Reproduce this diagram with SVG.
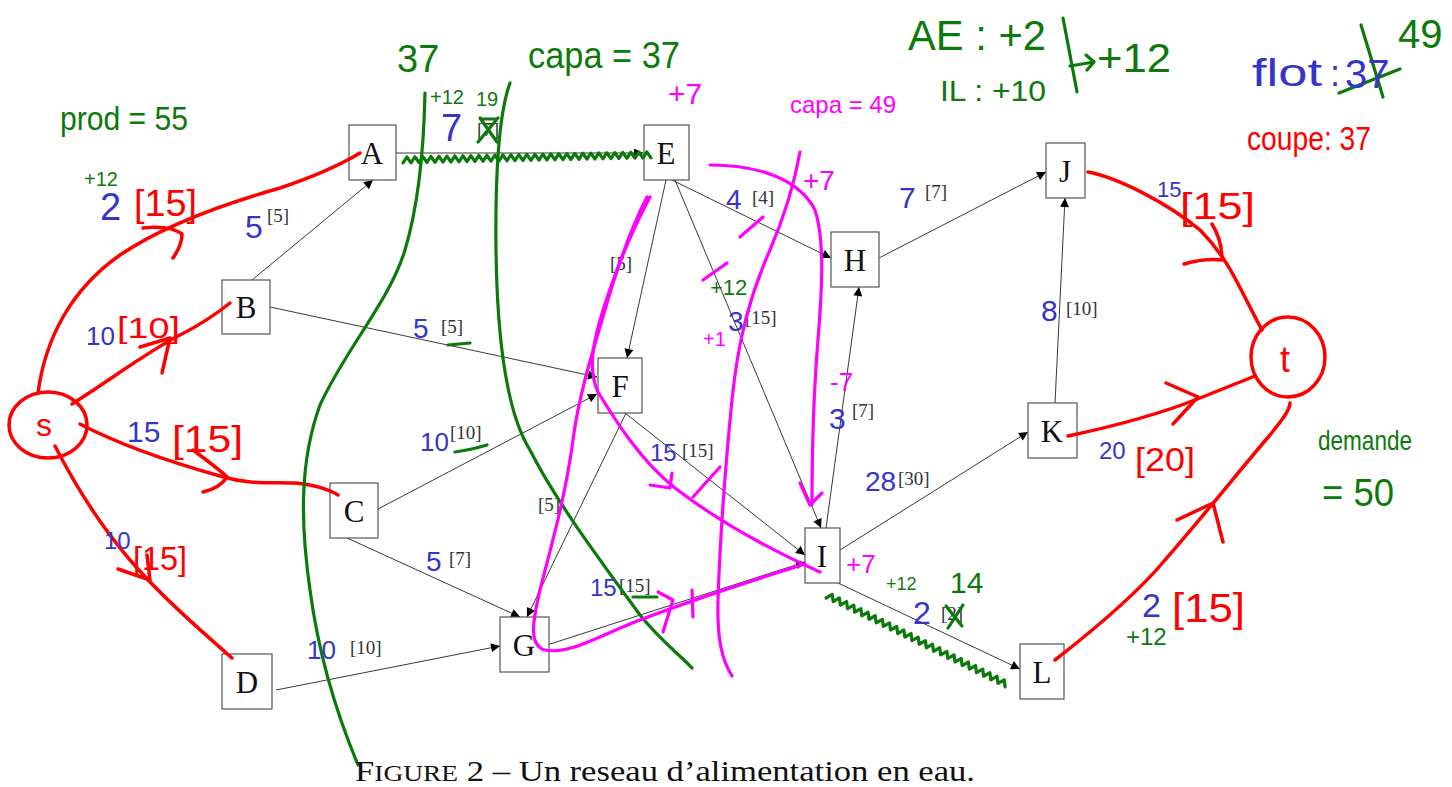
<svg xmlns="http://www.w3.org/2000/svg" width="1452" height="787" viewBox="0 0 1452 787">
<defs>
<marker id="ar" viewBox="0 0 10 10" refX="10" refY="5" markerWidth="11" markerHeight="9" markerUnits="userSpaceOnUse" orient="auto"><path d="M0,0 L10,5 L0,10 z" fill="#000"/></marker>
</defs>
<style>
.box{fill:#fff;stroke:#555;stroke-width:1.2}
.nl{font-family:"Liberation Serif",serif;font-size:31px;fill:#111;text-anchor:middle}
.cp{font-family:"Liberation Serif",serif;font-size:19px;fill:#333}
.e{stroke:#222;stroke-width:0.9;fill:none;marker-end:url(#ar)}
.r{stroke:#f00;stroke-width:3.5;fill:none;stroke-linecap:round;stroke-linejoin:round}
.g{stroke:#0b7a0b;stroke-width:3.2;fill:none;stroke-linecap:round;stroke-linejoin:round}
.m{stroke:#f0f;stroke-width:3.2;fill:none;stroke-linecap:round;stroke-linejoin:round}
.h{font-family:"Liberation Sans",sans-serif}
.hb{fill:#3535cc}
.hr{fill:#f00}
.hg{fill:#0b7a0b}
.hm{fill:#f0f}
</style>
<rect width="1452" height="787" fill="#fff"/>

<g id="connectors">
<line class="e" x1="252" y1="280" x2="373" y2="180"/>
<line class="e" x1="396" y1="153" x2="643" y2="153"/>
<line class="e" x1="270" y1="307" x2="597" y2="377"/>
<line class="e" x1="378" y1="509" x2="597" y2="394"/>
<line class="e" x1="347" y1="538" x2="520" y2="617"/>
<line class="e" x1="276" y1="690" x2="500" y2="646"/>
<line class="e" x1="666" y1="180" x2="627" y2="358"/>
<line class="e" x1="672" y1="180" x2="831" y2="258"/>
<line class="e" x1="675" y1="180" x2="821" y2="528"/>
<line class="e" x1="626" y1="413" x2="527" y2="617"/>
<line class="e" x1="625" y1="413" x2="805" y2="555"/>
<line class="e" x1="547" y1="645" x2="805" y2="562"/>
<line class="e" x1="826" y1="528" x2="859" y2="287"/>
<line class="e" x1="840" y1="550" x2="1028" y2="432"/>
<line class="e" x1="838" y1="583" x2="1020" y2="669"/>
<line class="e" x1="879" y1="258" x2="1046" y2="172"/>
<line class="e" x1="1055" y1="403" x2="1065" y2="198"/>
</g>

<g id="edge-labels" class="cp">
<text x="267" y="222">[5]</text>
<text x="477" y="136">[7]</text>
<text x="752" y="204">[4]</text>
<text x="610" y="270">[5]</text>
<text x="745" y="324">[15]</text>
<text x="441" y="333">[5]</text>
<text x="450" y="439">[10]</text>
<text x="682" y="457">[15]</text>
<text x="852" y="417">[7]</text>
<text x="898" y="485">[30]</text>
<text x="1066" y="315">[10]</text>
<text x="925" y="198">[7]</text>
<text x="538" y="511">[5]</text>
<text x="449" y="565">[7]</text>
<text x="619" y="592">[15]</text>
<text x="350" y="654">[10]</text>
<text x="941" y="620">[2]</text>
</g>

<g id="node-A"><rect class="box" x="349" y="125" width="47" height="55"/><text class="nl" x="372" y="164">A</text></g>
<g id="node-B"><rect class="box" x="222" y="280" width="48" height="54"/><text class="nl" x="246" y="318">B</text></g>
<g id="node-C"><rect class="box" x="330" y="483" width="48" height="55"/><text class="nl" x="354" y="522">C</text></g>
<g id="node-D"><rect class="box" x="222" y="654" width="50" height="55"/><text class="nl" x="247" y="693">D</text></g>
<g id="node-E"><rect class="box" x="644" y="125" width="45" height="55"/><text class="nl" x="666" y="164">E</text></g>
<g id="node-F"><rect class="box" x="598" y="358" width="44" height="55"/><text class="nl" x="620" y="397">F</text></g>
<g id="node-G"><rect class="box" x="500" y="617" width="49" height="55"/><text class="nl" x="524" y="656">G</text></g>
<g id="node-H"><rect class="box" x="831" y="232" width="48" height="55"/><text class="nl" x="855" y="271">H</text></g>
<g id="node-I"><rect class="box" x="805" y="528" width="35" height="55"/><text class="nl" x="822" y="567">I</text></g>
<g id="node-J"><rect class="box" x="1046" y="143" width="39" height="55"/><text class="nl" x="1065" y="182">J</text></g>
<g id="node-K"><rect class="box" x="1028" y="403" width="49" height="55"/><text class="nl" x="1052" y="442">K</text></g>
<g id="node-L"><rect class="box" x="1020" y="644" width="44" height="55"/><text class="nl" x="1042" y="683">L</text></g>

<g id="red-strokes">
<ellipse class="r" cx="48" cy="425" rx="39" ry="33"/>
<ellipse class="r" cx="1288" cy="357" rx="37" ry="40"/>
<path class="r" d="M38,393 C45,340 70,290 120,255 C160,228 220,205 280,188 C310,178 340,165 360,153"/>
<path class="r" d="M143,228 Q170,225 182,234 Q182,245 173,258"/>
<path class="r" d="M72,404 C110,380 150,350 180,335 C200,325 215,315 230,303"/>
<path class="r" d="M140,347 L170,338 L162,373"/>
<path class="r" d="M80,424 C120,445 170,462 220,476 C250,485 270,482 295,483 C315,485 330,490 338,495"/>
<path class="r" d="M193,450 Q220,470 227,477 Q220,488 203,492"/>
<path class="r" d="M55,446 C75,485 100,525 130,560 C160,595 200,630 232,658"/>
<path class="r" d="M118,569 L150,580 L147,555"/>
<path class="r" d="M1088,172 C1120,178 1170,205 1200,230 C1230,260 1240,290 1262,330"/>
<path class="r" d="M1184,264 Q1205,258 1222,260 Q1222,240 1212,224"/>
<path class="r" d="M1068,436 C1120,425 1170,410 1200,398 C1220,390 1240,382 1255,376"/>
<path class="r" d="M1166,383 L1198,397 L1173,424"/>
<path class="r" d="M1055,660 C1100,625 1140,590 1165,560 C1200,520 1240,470 1270,435 C1282,420 1290,410 1290,403"/>
<path class="r" d="M1177,520 L1213,503 L1223,542"/>
</g>

<g id="green-strokes">
<path class="g" d="M425,93 C424,140 420,200 405,250 C390,300 345,350 320,405 C300,460 300,520 310,590 C318,650 335,710 358,765"/>
<path class="g" d="M510,83 C500,110 495,160 496,250 C497,330 505,410 530,450 C555,500 600,560 640,615 C660,640 680,655 692,668"/>
<path class="g" stroke-width="4" transform="translate(403,163) rotate(-1.2)" d="M0,0 l4,-6l4,6l4,-6l4,6l4,-6l4,6l4,-6l4,6l4,-6l4,6l4,-6l4,6l4,-6l4,6l4,-6l4,6l4,-6l4,6l4,-6l4,6l4,-6l4,6l4,-6l4,6l4,-6l4,6l4,-6l4,6l4,-6l4,6l4,-6l4,6l4,-6l4,6l4,-6l4,6l4,-6l4,6l4,-6l4,6l4,-6l4,6l4,-6l4,6l4,-6l4,6l4,-6l4,6l4,-6l4,6l4,-6l4,6l4,-6l4,6l4,-6l4,6l4,-6l4,6l4,-6l4,6l4,-6l4,6"/>
<path class="g" stroke-width="4" transform="translate(826,598) rotate(26.4)" d="M0,0 l4,-6l4,6l4,-6l4,6l4,-6l4,6l4,-6l4,6l4,-6l4,6l4,-6l4,6l4,-6l4,6l4,-6l4,6l4,-6l4,6l4,-6l4,6l4,-6l4,6l4,-6l4,6l4,-6l4,6l4,-6l4,6l4,-6l4,6l4,-6l4,6l4,-6l4,6l4,-6l4,6l4,-6l4,6l4,-6l4,6l4,-6l4,6l4,-6l4,6l4,-6l4,6l4,-6l4,6l4,-6l4,6"/>
<path class="g" d="M480,118 L497,142 M498,118 L478,142 M481,119 L497,119"/>
<path class="g" d="M946,606 L962,626 M963,605 L948,628"/>
<path class="g" d="M448,345 L470,343"/>
<path class="g" d="M455,452 Q470,450 487,445"/>
<path class="g" d="M633,597 L657,597"/>
<path class="g" d="M1339,93 L1400,69 M1361,25 L1383,97"/>
<path class="g" d="M1063,18 L1077,92 M1070,66 L1094,62 M1086,55 L1094,62 L1087,70"/>
</g>

<g id="magenta-strokes">
<path class="m" d="M710,165 C760,165 800,180 815,210 C825,240 822,290 818,340 C813,400 812,460 812,505"/>
<path class="m" d="M800,483 L810,505 L822,493"/>
<path class="m" d="M650,197 C635,225 615,270 600,320 C593,345 588,370 598,392 C615,420 640,460 675,488 C710,515 760,545 820,572"/>
<path class="m" d="M647,197 C630,230 615,275 605,310 C590,360 578,400 573,440 C565,500 550,550 540,590 C533,620 528,645 545,650 C570,655 600,635 640,620 C700,597 760,578 805,564"/>
<path class="m" d="M800,152 C795,180 785,215 770,250 C750,295 738,340 732,400 C725,470 720,540 718,600 C717,640 722,660 732,676"/>
<path class="m" d="M740,237 L763,217"/>
<path class="m" d="M703,280 L727,263"/>
<path class="m" d="M693,497 L720,467"/>
<path class="m" d="M650,485 L670,488 L672,473"/>
<path class="m" d="M658,592 L673,600 L663,632"/>
<path class="m" d="M692,590 L693,617"/>
</g>

<g id="annotations-green" class="h hg">
<text x="60" y="130" font-size="34" textLength="128" lengthAdjust="spacingAndGlyphs">prod = 55</text>
<text x="397" y="72" font-size="38">37</text>
<text x="528" y="68" font-size="36" textLength="152" lengthAdjust="spacingAndGlyphs">capa = 37</text>
<text x="84" y="186" font-size="20">+12</text>
<text x="430" y="104" font-size="20">+12</text>
<text x="476" y="106" font-size="20">19</text>
<text x="908" y="50" font-size="42" textLength="138" lengthAdjust="spacingAndGlyphs">AE : +2</text>
<text x="940" y="101" font-size="30" textLength="106" lengthAdjust="spacingAndGlyphs">IL : +10</text>
<text x="1097" y="72" font-size="40" textLength="74" lengthAdjust="spacingAndGlyphs">+12</text>
<text x="1398" y="48" font-size="40">49</text>
<text x="710" y="295" font-size="22">+12</text>
<text x="886" y="590" font-size="18">+12</text>
<text x="950" y="593" font-size="30">14</text>
<text x="1126" y="645" font-size="24">+12</text>
<text x="1318" y="450" font-size="28" textLength="94" lengthAdjust="spacingAndGlyphs">demande</text>
<text x="1322" y="506" font-size="38" textLength="72" lengthAdjust="spacingAndGlyphs">= 50</text>
</g>

<g id="annotations-blue" class="h hb">
<text x="100" y="220" font-size="38">2</text>
<text x="245" y="238" font-size="32">5</text>
<text x="441" y="141" font-size="38">7</text>
<text x="86" y="345" font-size="26">10</text>
<text x="127" y="442" font-size="30">15</text>
<text x="104" y="549" font-size="24">10</text>
<text x="413" y="338" font-size="28">5</text>
<text x="420" y="451" font-size="26">10</text>
<text x="426" y="571" font-size="28">5</text>
<text x="307" y="659" font-size="26">10</text>
<text x="590" y="596" font-size="24">15</text>
<text x="650" y="461" font-size="24">15</text>
<text x="726" y="209" font-size="28">4</text>
<text x="728" y="331" font-size="28">3</text>
<text x="829" y="429" font-size="30">3</text>
<text x="865" y="491" font-size="28">28</text>
<text x="913" y="624" font-size="32">2</text>
<text x="899" y="208" font-size="30">7</text>
<text x="1041" y="321" font-size="30">8</text>
<text x="1157" y="197" font-size="22">15</text>
<text x="1099" y="459" font-size="24">20</text>
<text x="1142" y="617" font-size="34">2</text>
<text x="1252" y="86" font-size="38" textLength="70" lengthAdjust="spacingAndGlyphs">flot</text>
<text x="1330" y="86" font-size="36">:</text>
<text x="1345" y="88" font-size="40">37</text>
</g>

<g id="annotations-red" class="h hr">
<text x="134" y="216" font-size="36" textLength="63" lengthAdjust="spacingAndGlyphs">[15]</text>
<text x="117" y="338" font-size="30" textLength="63" lengthAdjust="spacingAndGlyphs">[10]</text>
<text x="172" y="452" font-size="36" textLength="71" lengthAdjust="spacingAndGlyphs">[15]</text>
<text x="133" y="570" font-size="34" textLength="54" lengthAdjust="spacingAndGlyphs">[15]</text>
<text x="1180" y="219" font-size="36" textLength="75" lengthAdjust="spacingAndGlyphs">[15]</text>
<text x="1135" y="471" font-size="34" textLength="60" lengthAdjust="spacingAndGlyphs">[20]</text>
<text x="1172" y="622" font-size="40" textLength="73" lengthAdjust="spacingAndGlyphs">[15]</text>
<text x="1247" y="150" font-size="34" textLength="124" lengthAdjust="spacingAndGlyphs">coupe: 37</text>
<text x="36" y="436" font-size="32">s</text>
<text x="1280" y="372" font-size="36">t</text>
</g>

<g id="annotations-magenta" class="h hm">
<text x="668" y="104" font-size="30">+7</text>
<text x="790" y="113" font-size="24" textLength="106" lengthAdjust="spacingAndGlyphs">capa = 49</text>
<text x="803" y="190" font-size="28">+7</text>
<text x="703" y="346" font-size="20">+1</text>
<text x="830" y="391" font-size="26">-7</text>
<text x="846" y="573" font-size="26">+7</text>
</g>

<text id="caption" x="355" y="781" font-family="Liberation Serif, serif" font-size="29" fill="#111" textLength="620" lengthAdjust="spacingAndGlyphs"><tspan>F</tspan><tspan font-size="23">IGURE</tspan><tspan> 2 – Un reseau d’alimentation en eau.</tspan></text>
</svg>
